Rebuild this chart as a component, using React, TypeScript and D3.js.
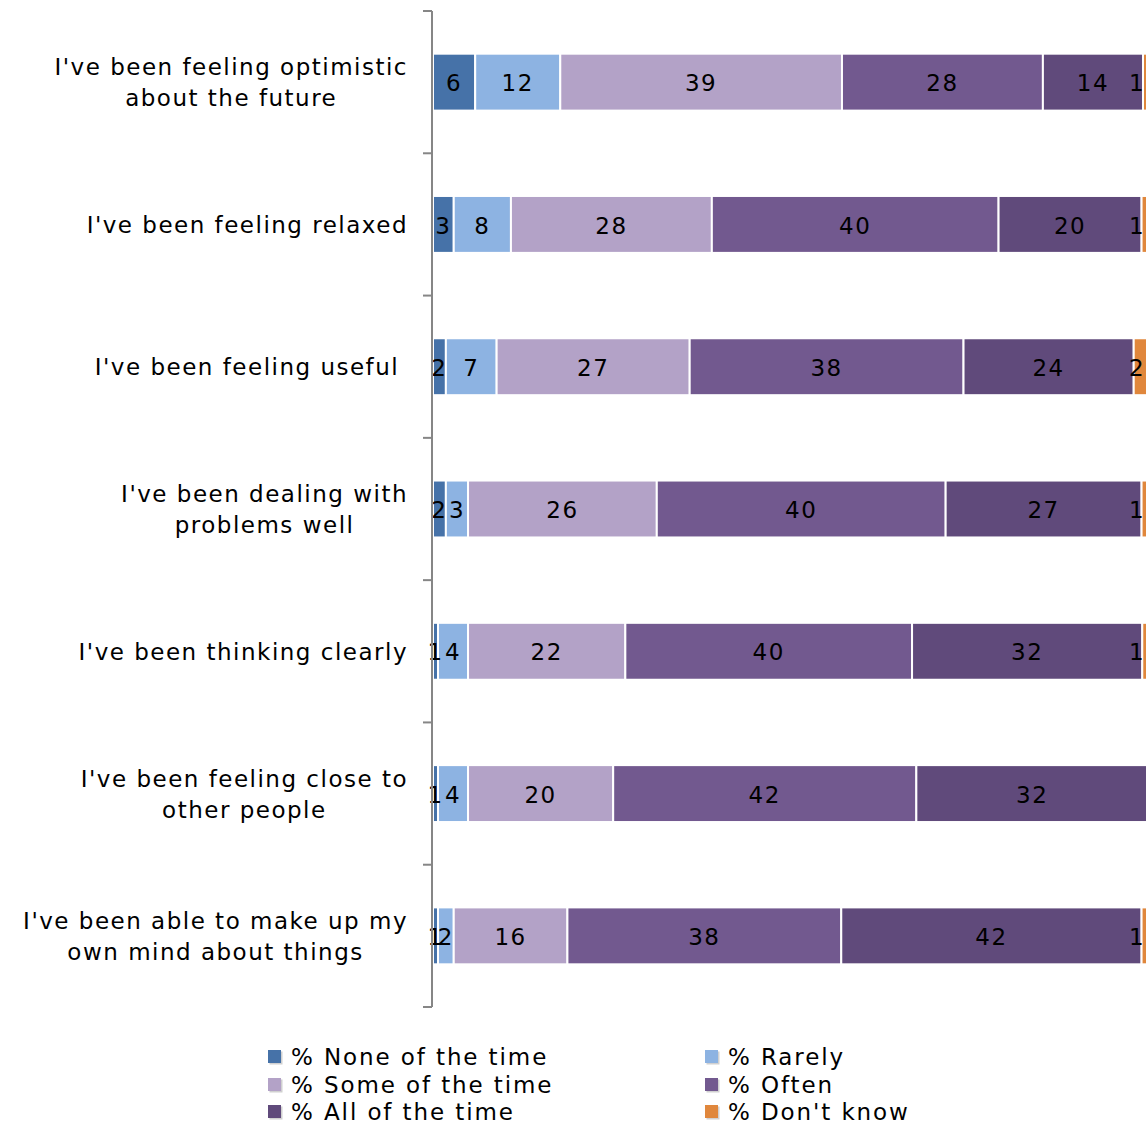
import React, { useEffect, useRef } from "react";
import * as d3 from "d3";

const categories: string[][] = [
  ["I've been feeling optimistic", "about the future"],
  ["I've been feeling relaxed"],
  ["I've been feeling useful\u00a0"],
  ["I've been dealing with", "problems well"],
  ["I've been thinking clearly"],
  ["I've been feeling close to", "other people"],
  ["I've been able to make up my", "own mind about things"],
];

const seriesNames = [
  "% None of the time",
  "% Rarely",
  "% Some of the time",
  "% Often",
  "% All of the time",
  "% Don't know",
];

const seriesColors = ["#4672A8", "#8DB3E2", "#B3A2C7", "#72598F", "#604A7B", "#E0873C"];

// values per category, in series order
const noneOfTheTime = [5.9, 2.9, 1.8, 1.8, 0.7, 0.7, 0.7];
const rarely = [11.9, 8.0, 7.1, 3.1, 4.2, 4.2, 2.2];
const someOfTheTime = [39.4, 28.1, 27.0, 26.4, 22.0, 20.3, 15.9];
const often = [28.1, 40.1, 38.3, 40.4, 40.1, 42.4, 38.3];
const allOfTheTime = [14.0, 20.0, 23.8, 27.4, 32.2, 32.4, 42.0];
const dontKnow = [0.7, 0.9, 2.0, 0.9, 0.8, 0, 0.9];

const seriesValues = [noneOfTheTime, rarely, someOfTheTime, often, allOfTheTime, dontKnow];

const W = 1146;
const H = 1124;
const FONT = "'DejaVu Sans', Verdana, sans-serif";
const FS = 23;
const LS = 1.5;
const LEG_LS = 1.9;

export default function App() {
  const ref = useRef<SVGSVGElement | null>(null);

  useEffect(() => {
    const svg = d3.select(ref.current);
    svg.selectAll("*").remove();

    const x = d3.scaleLinear().domain([0, 100]).range([433, 1148]);
    const y = d3
      .scaleBand<number>()
      .domain(d3.range(categories.length))
      .range([11, 1007])
      .paddingInner(0.6)
      .paddingOuter(0.3);
    const step = y.step();

    const rows = categories.map((_, ci) => {
      let acc = 0;
      return seriesValues.map((vals, si) => {
        const v = vals[ci];
        const seg = { ci, si, v, x0: acc, x1: acc + v };
        acc += v;
        return seg;
      });
    });

    const g = svg.append("g");
    rows.forEach((segs) => {
      segs.forEach((s) => {
        if (s.v <= 0) return;
        g.append("rect")
          .attr("x", x(s.x0))
          .attr("y", y(s.ci)!)
          .attr("width", Math.max(0, x(s.x1) - x(s.x0)))
          .attr("height", y.bandwidth())
          .attr("fill", seriesColors[s.si])
          .attr("stroke", "#ffffff")
          .attr("stroke-width", 2);
      });
    });

    rows.forEach((segs) => {
      segs.forEach((s) => {
        if (s.v <= 0) return;
        const cx = Math.min((x(s.x0) + x(s.x1)) / 2, 1137);
        g.append("text")
          .attr("x", cx)
          .attr("y", y(s.ci)! + y.bandwidth() / 2)
          .attr("dy", "0.4em")
          .attr("text-anchor", "middle")
          .attr("font-family", FONT)
          .attr("font-size", FS)
          .attr("letter-spacing", LS)
          .attr("fill", "#000")
          .text(String(Math.round(s.v)));
      });
    });

    const axisX = 432;
    svg
      .append("line")
      .attr("x1", axisX)
      .attr("x2", axisX)
      .attr("y1", 11)
      .attr("y2", 1007)
      .attr("stroke", "#868686")
      .attr("stroke-width", 2);
    d3.range(categories.length + 1).forEach((i) => {
      const ty = 11 + i * step;
      svg
        .append("line")
        .attr("x1", 423)
        .attr("x2", axisX)
        .attr("y1", ty)
        .attr("y2", ty)
        .attr("stroke", "#868686")
        .attr("stroke-width", 2);
    });

    const lineH = 31;
    categories.forEach((lines, ci) => {
      const cy = y(ci)! + y.bandwidth() / 2;
      const grp = svg.append("g");
      const texts = lines.map((ln, li) =>
        grp
          .append("text")
          .attr("y", cy + (li - (lines.length - 1) / 2) * lineH)
          .attr("dy", "0.38em")
          .attr("text-anchor", "middle")
          .attr("font-family", FONT)
          .attr("font-size", FS)
          .attr("letter-spacing", LS)
          .attr("fill", "#000")
          .text(ln)
      );
      const widths = texts.map((t) => (t.node() as SVGTextElement).getComputedTextLength());
      const maxW = d3.max(widths) || 0;
      const right = 408;
      texts.forEach((t) => t.attr("x", right - maxW / 2));
    });

    const legX = [268, 705];
    const legY = [1057, 1085, 1112];
    seriesNames.forEach((name, i) => {
      const col = i % 2;
      const row = Math.floor(i / 2);
      const lx = legX[col];
      const ly = legY[row];
      svg
        .append("rect")
        .attr("x", lx + 1.5)
        .attr("y", ly - 5.5)
        .attr("width", 13)
        .attr("height", 13)
        .attr("fill", "#d0d0d0");
      svg
        .append("rect")
        .attr("x", lx)
        .attr("y", ly - 7)
        .attr("width", 13)
        .attr("height", 13)
        .attr("fill", seriesColors[i]);
      svg
        .append("text")
        .attr("x", lx + 23)
        .attr("y", ly)
        .attr("dy", "0.36em")
        .attr("font-family", FONT)
        .attr("font-size", FS)
        .attr("letter-spacing", LEG_LS)
        .attr("fill", "#000")
        .text(name);
    });
  }, []);

  return (
    <svg
      ref={ref}
      width={W}
      height={H}
      style={{ position: "absolute", left: 0, top: 0, background: "#fff" }}
    />
  );
}
